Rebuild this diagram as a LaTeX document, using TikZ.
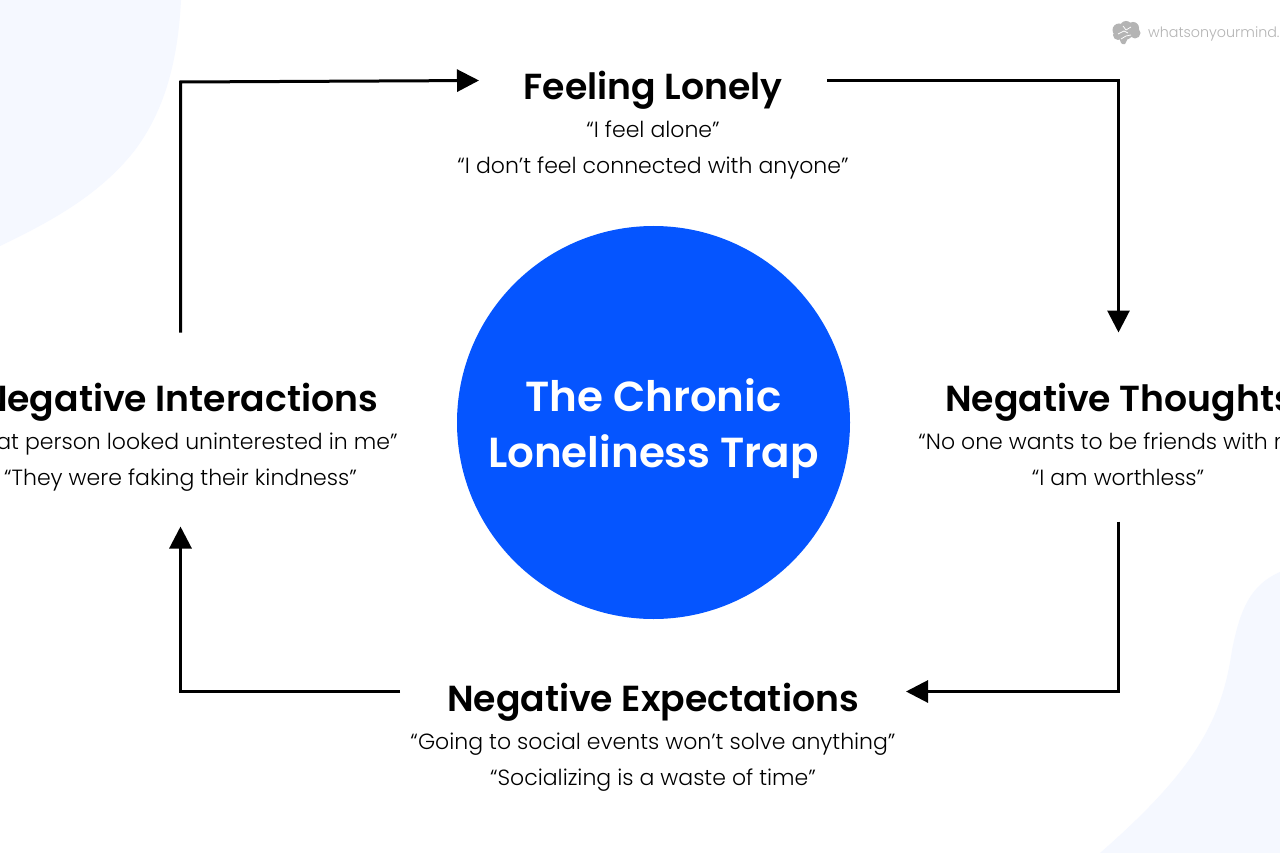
\documentclass[tikz,border=0pt]{standalone}
\usepackage{fontspec}
\setmainfont{Poppins}
\newfontfamily\lightf{Poppins Light}
\newfontfamily\semif{Poppins SemiBold}
\usetikzlibrary{arrows.meta}
\definecolor{pale}{HTML}{F5F8FF}
\definecolor{trapblue}{HTML}{0555FF}
\definecolor{markgrey}{HTML}{B4B4B4}
\tikzset{
  frame/.style={inner sep=0pt,outer sep=0pt},
  heading/.style={anchor=base,font=\semif\fontsize{36.2}{36.2}\selectfont,text=black,inner sep=0pt},
  quote/.style={anchor=base,font=\lightf\fontsize{22}{22}\selectfont,text=black,inner sep=0pt},
  centre/.style={anchor=base,font=\semif\fontsize{42}{42}\selectfont,text=white,inner sep=0pt},
  arr/.style={draw=black,line width=3pt,-{Triangle[length=22pt,width=22pt]}},
}
\begin{document}
\begin{tikzpicture}[x=1pt,y=-1pt]
\useasboundingbox (0,0) rectangle (1280,853);
\clip (0,0) rectangle (1280,853);
\fill[white] (0,0) rectangle (1280,853);
% background blobs
\fill[pale] (0,0) -- (181,0) .. controls (178,60) and (165,110) .. (135,150) .. controls (100,195) and (50,222) .. (0,246) -- cycle;
\fill[pale] (1280,572) .. controls (1250,585) and (1240,610) .. (1232,650) .. controls (1222,720) and (1195,770) .. (1100,853) -- (1280,853) -- cycle;
% watermark
\fill[markgrey] (1119,30) circle[radius=6.5] (1126,27) circle[radius=6] (1133,28) circle[radius=6] (1135,33) circle[radius=5.5] (1126,33) circle[radius=6.5] (1118,35) circle[radius=5] (1123,39) circle[radius=3.5];
\fill[markgrey] (1120,38) -- (1128,38) -- (1125,44) .. controls (1123,44.5) and (1122,44) .. (1121,43) -- cycle;
\draw[white,line width=.7pt] (1118,34) -- (1124,31) -- (1128,33) (1123,26) -- (1126,30) -- (1131,27) (1121,39) -- (1126,36) -- (1131,35);
\node[anchor=base west,inner sep=0pt,text=markgrey,font=\lightf\fontsize{14.3}{14.3}\selectfont] (mark) at (1148,38) {whatsonyourmind.};
% centre
\fill[trapblue] (653.5,422.5) circle[radius=196.5];
\node[centre] (t1) at (653.5,411) {The Chronic};
\node[centre] (t2) at (653.5,467) {Loneliness Trap};
% frames used by the connectors
\node[frame,minimum width=348pt,minimum height=1pt] (lonely) at (653,80.5) {};
\node[frame,minimum width=300pt,minimum height=189pt] (thoughts) at (1118.5,427) {};
\node[frame,minimum width=506pt,minimum height=1pt] (expect) at (653,691.5) {};
\node[frame,minimum width=300pt,minimum height=194pt] (interact) at (180.5,429.5) {};
\coordinate (topleft) at (180.5,82);
% texts
\node[heading] (h1) at (653,100) {Feeling Lonely};
\node[quote] (q11) at (653,138) {“I feel alone”};
\node[quote] (q12) at (653,174) {“I don’t feel connected with anyone”};
\node[heading] (h2) at (1119.5,411) {Negative Thoughts};
\node[quote] (q21) at (1118,449) {“No one wants to be friends with me”};
\node[quote] (q22) at (1118,485) {“I am worthless”};
\node[heading] (h3) at (653,711) {Negative Expectations};
\node[quote] (q31) at (653,749) {“Going to social events won’t solve anything”};
\node[quote] (q32) at (653,785) {“Socializing is a waste of time”};
\node[heading] (h4) at (179.5,411) {Negative Interactions};
\node[quote] (q41) at (180.5,449) {“That person looked uninterested in me”};
\node[quote] (q42) at (180.5,485) {“They were faking their kindness”};
% connectors
\draw[arr] (lonely.east) -| (thoughts.north);
\draw[arr] (thoughts.south) |- (expect.east);
\draw[arr] (expect.west) -| (interact.south);
\draw[arr] (interact.north) -- (topleft) -- (lonely.west);
\end{tikzpicture}
\end{document}
